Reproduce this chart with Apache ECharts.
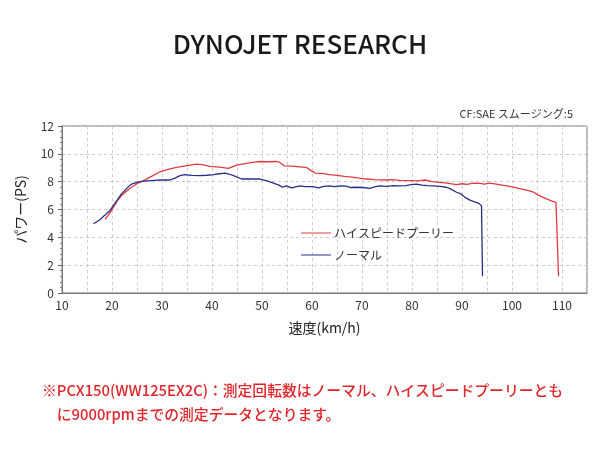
<!DOCTYPE html>
<html>
<head>
<meta charset="utf-8">
<script src="https://cdn.jsdelivr.net/npm/echarts@6/dist/echarts.min.js"></script>
<style>
  html, body { margin: 0; padding: 0; background: #fff; }
  #main { width: 600px; height: 450px; }
</style>
</head>
<body>
<div id="main"></div>
<script>
var myChart = echarts.init(document.getElementById('main'));

// ハイスピードプーリー
var highSpeedKmh = [18.6, 19.5, 20.3, 21.2, 21.9, 23, 23.9, 25, 26.3, 28, 29.6, 31, 32.9, 35, 36.9, 38, 39.6, 41.5, 43.3, 44.9,
  46.9, 48.5, 49.6, 51, 52.9, 53.5, 54.4, 56, 57.6, 58.9, 59.6, 60.6, 62, 63.5, 65, 66.5, 68, 69.5, 70.9, 72.5,
  74.9, 76, 77.5, 79.6, 81, 82, 82.6, 84, 85.6, 87, 88.9, 90, 91, 92.3, 93.6, 94.5, 95.5, 96.9, 98, 99,
  100.3, 101.5, 102.5, 103.5, 104.3, 105.5, 106.9, 108, 108.8, 109.3];
var highSpeedPs = [5.29, 5.7, 6.17, 6.7, 7.0, 7.35, 7.6, 7.85, 8.07, 8.4, 8.71, 8.87, 9.02, 9.15, 9.26, 9.22, 9.1, 9.05, 8.95, 9.19,
  9.31, 9.4, 9.45, 9.43, 9.45, 9.4, 9.14, 9.12, 9.07, 9.02, 8.85, 8.62, 8.6, 8.5, 8.45, 8.38, 8.32, 8.25, 8.19, 8.15,
  8.12, 8.15, 8.1, 8.07, 8.05, 8.1, 8.12, 8.0, 7.95, 7.9, 7.79, 7.85, 7.8, 7.9, 7.88, 7.82, 7.9, 7.83, 7.75, 7.7,
  7.6, 7.5, 7.42, 7.33, 7.24, 7.0, 6.76, 6.6, 6.52, 1.2];

// ノーマル
var normalKmh = [16.3, 17.5, 18.6, 19.6, 20.8, 21.9, 22.9, 23.9, 25, 25.6, 27, 28.5, 29.6, 31.6, 32.6, 33.6, 34.6, 36, 37.6, 39,
  40.3, 41.5, 42.6, 43.4, 44.3, 45.9, 47.5, 49.6, 51, 52.3, 53.4, 54.1, 54.9, 55.9, 56.7, 57.6, 58.7, 60.3, 61.3, 62.3,
  63.5, 64.5, 65.6, 66.8, 67.8, 68.9, 70.2, 71.6, 72.5, 73.5, 74.9, 76.2, 77.6, 78.8, 79.8, 80.9, 82, 83.1, 84.3, 85.6,
  86.9, 87.9, 88.9, 89.8, 90.7, 91.6, 92.5, 93.3, 93.9, 94.1];
var normalPs = [4.98, 5.25, 5.6, 5.93, 6.55, 7.12, 7.5, 7.83, 7.95, 8.0, 8.05, 8.1, 8.12, 8.12, 8.25, 8.43, 8.5, 8.45, 8.43, 8.46,
  8.5, 8.57, 8.62, 8.55, 8.43, 8.19, 8.2, 8.19, 8.05, 7.9, 7.75, 7.6, 7.7, 7.55, 7.62, 7.7, 7.65, 7.64, 7.55, 7.66,
  7.7, 7.65, 7.7, 7.68, 7.58, 7.6, 7.58, 7.52, 7.62, 7.7, 7.66, 7.72, 7.7, 7.72, 7.78, 7.83, 7.75, 7.72, 7.7, 7.66,
  7.6, 7.45, 7.24, 7.12, 6.85, 6.67, 6.55, 6.45, 6.29, 1.2];

function pairs(xs, ys) {
    return xs.map(function (x, i) { return [x, ys[i]]; });
}

var jpFont = '"Noto Sans CJK JP", "Noto Sans", sans-serif';

var option = {
    backgroundColor: '#fff',
    textStyle: { fontFamily: jpFont },
    title: [{
        text: 'DYNOJET RESEARCH',
        left: 'center',
        top: 26,
        textStyle: { fontSize: 26, fontWeight: 500, color: '#1a1a1a', fontFamily: jpFont }
    }, {
        text: 'CF:SAE スムージング:5',
        right: 22,
        top: 103,
        textStyle: { fontSize: 11, fontWeight: 'normal', color: '#333', fontFamily: jpFont }
    }, {
        text: '※PCX150(WW125EX2C)：測定回転数はノーマル、ハイスピードプーリーとも\n　に9000rpmまでの測定データとなります。',
        left: 37,
        top: 373,
        textStyle: { fontSize: 14.8, fontWeight: 500, color: '#e0262b', lineHeight: 24, fontFamily: jpFont }
    }],
    legend: {
        orient: 'vertical',
        left: 296,
        top: 222,
        itemWidth: 30,
        itemHeight: 10,
        itemGap: 10,
        icon: 'path://M0,4.5 L30,4.5 L30,5.5 L0,5.5 Z',
        textStyle: { fontSize: 12, color: '#333', fontFamily: jpFont, padding: [0, 0, 0, -2] },
        data: ['ハイスピードプーリー', 'ノーマル']
    },
    grid: {
        left: 62, right: 13, top: 126, bottom: 157,
        show: true, borderColor: '#777', borderWidth: 1
    },
    xAxis: {
        type: 'value',
        min: 10, max: 115, interval: 5,
        name: '速度(km/h)',
        nameLocation: 'middle',
        nameGap: 28,
        nameTextStyle: { fontSize: 14, color: '#222' },
        axisLine: { lineStyle: { color: '#777' } },
        axisTick: { show: false },
        axisLabel: {
            color: '#333', fontSize: 12, margin: 6,
            showMaxLabel: false,
            formatter: function (v) { return v % 10 === 0 ? String(v) : ''; }
        },
        splitLine: { show: true, lineStyle: { color: '#ccc', type: [3, 3] } }
    },
    yAxis: {
        type: 'value',
        min: 0, max: 12, interval: 2,
        name: 'パワー(PS)',
        nameLocation: 'middle',
        nameGap: 34,
        nameTextStyle: { fontSize: 14, color: '#222' },
        axisLine: { show: true, lineStyle: { color: '#777' } },
        axisTick: { show: true, length: 4, lineStyle: { color: '#666' } },
        minorTick: { show: true, splitNumber: 5, length: 2, lineStyle: { color: '#888' } },
        axisLabel: { color: '#333', fontSize: 12, margin: 8 },
        splitLine: { show: true, lineStyle: { color: '#ccc', type: [3, 3] } }
    },
    series: [{
        name: 'ハイスピードプーリー',
        type: 'line',
        showSymbol: false,
        color: '#e03a40',
        lineStyle: { width: 1.3, color: '#e03a40' },
        data: pairs(highSpeedKmh, highSpeedPs)
    }, {
        name: 'ノーマル',
        type: 'line',
        showSymbol: false,
        color: '#2a2e88',
        lineStyle: { width: 1.3, color: '#2a2e88' },
        data: pairs(normalKmh, normalPs)
    }]
};

myChart.setOption(option);
</script>
</body>
</html>
